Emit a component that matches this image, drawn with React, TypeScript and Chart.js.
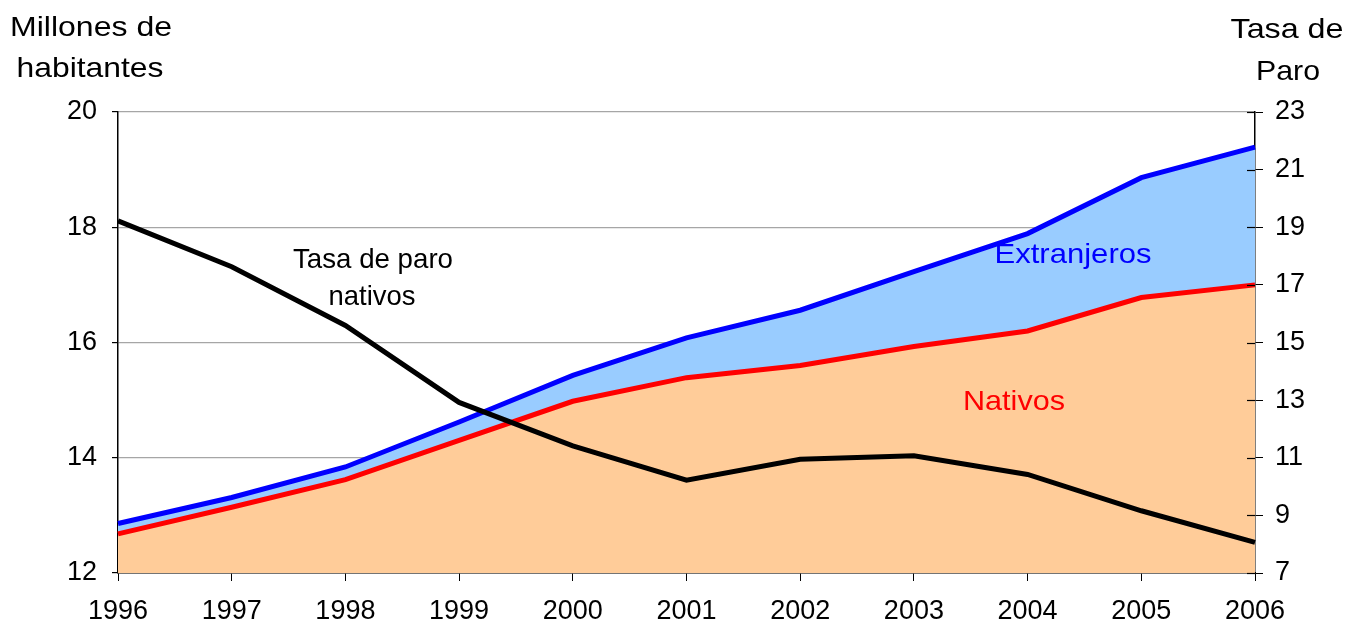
import React, { useEffect, useRef } from "react";
import { Chart, registerables } from "chart.js";

Chart.register(...registerables);

const years = ["1996", "1997", "1998", "1999", "2000", "2001", "2002", "2003", "2004", "2005", "2006"];
const nativos = [12.68, 13.14, 13.62, 14.3, 14.98, 15.39, 15.6, 15.93, 16.2, 16.78, 17.0];
const totalConExtranjeros = [12.86, 13.31, 13.84, 14.62, 15.43, 16.08, 16.56, 17.23, 17.89, 18.86, 19.39];
const tasaParoNativos = [19.22, 17.63, 15.59, 12.92, 11.41, 10.22, 10.95, 11.07, 10.42, 9.16, 8.06];

const FONT = "'Liberation Sans', Arial, sans-serif";

// [text, centerX, baselineY, targetWidth, color]
const labels: [string, number, number, number, string][] = [
  ["Millones de", 91, 36, 162, "#000000"],
  ["habitantes", 90, 77, 147, "#000000"],
  ["Tasa de", 1287, 38, 113, "#000000"],
  ["Paro", 1288, 80, 64, "#000000"],
  ["Tasa de paro", 373, 268, 160, "#000000"],
  ["nativos", 372, 305, 87, "#000000"],
  ["Extranjeros", 1073, 263, 157, "#0000FF"],
  ["Nativos", 1014, 410, 102, "#FF0000"],
];

const textPlugin = {
  id: "textPlugin",
  afterDraw(chart: any) {
    const ctx = chart.ctx;
    ctx.save();
    ctx.textAlign = "center";
    ctx.textBaseline = "alphabetic";
    ctx.font = `28px ${FONT}`;
    for (const [t, x, y, w, c] of labels) {
      const mw = ctx.measureText(t).width;
      const sx = w / mw;
      ctx.save();
      ctx.translate(x, y);
      ctx.scale(sx, 1);
      ctx.fillStyle = c;
      ctx.fillText(t, 0, 0);
      ctx.restore();
    }
    // inner part of right-axis tick marks
    const s = chart.scales.y1;
    ctx.strokeStyle = "#000000";
    ctx.lineWidth = 1.2;
    for (const tk of s.ticks) {
      const py = Math.round(s.getPixelForValue(tk.value)) + 0.5;
      ctx.beginPath();
      ctx.moveTo(s.left - 8, py);
      ctx.lineTo(s.left, py);
      ctx.stroke();
    }
    ctx.restore();
  },
};

export default function App() {
  const ref = useRef<HTMLCanvasElement>(null);
  useEffect(() => {
    if (!ref.current) return;
    const chart = new Chart(ref.current, {
      type: "line",
      data: {
        labels: years,
        datasets: [
          {
            label: "Nativos",
            data: nativos,
            yAxisID: "y",
            borderColor: "#FF0000",
            backgroundColor: "#FFCC99",
            borderWidth: 5,
            fill: "origin",
            pointRadius: 0,
            tension: 0,
            order: 2,
          },
          {
            label: "Extranjeros",
            data: totalConExtranjeros,
            yAxisID: "y",
            borderColor: "#0000FF",
            backgroundColor: "#99CCFF",
            borderWidth: 5,
            fill: 0,
            pointRadius: 0,
            tension: 0,
            order: 1,
          },
          {
            label: "Tasa de paro nativos",
            data: tasaParoNativos,
            yAxisID: "y1",
            borderColor: "#000000",
            backgroundColor: "#000000",
            borderWidth: 5,
            fill: false,
            pointRadius: 0,
            tension: 0,
            order: 0,
          },
        ],
      },
      options: {
        responsive: false,
        animation: false,
        layout: { padding: { top: 112, left: 0, right: 0, bottom: 0 } },
        plugins: {
          legend: { display: false },
          tooltip: { enabled: false },
          filler: { drawTime: "beforeDatasetsDraw" },
        },
        scales: {
          x: {
            type: "category",
            offset: false,
            grid: { display: true, drawOnChartArea: false, drawTicks: true, tickLength: 8, color: "#000000" },
            border: { display: true, color: "#000000", width: 1.5 },
            ticks: { color: "#000000", font: { family: FONT, size: 27 }, padding: 14, maxRotation: 0, autoSkip: false },
            afterFit: (s: any) => { s.height = 52; },
          },
          y: {
            position: "left",
            min: 12,
            max: 20,
            ticks: { stepSize: 2, color: "#000000", font: { family: FONT, size: 27 }, padding: 15 },
            grid: { color: "#A6A6A6", lineWidth: 1.2, tickColor: "#000000", tickLength: 6 },
            border: { display: true, color: "#000000", width: 1.5 },
            afterFit: (s: any) => { s.width = 118; },
          },
          y1: {
            position: "right",
            min: 7,
            max: 23,
            ticks: { stepSize: 2, color: "#000000", font: { family: FONT, size: 27 }, padding: 12 },
            grid: { drawOnChartArea: false, tickColor: "#000000", tickLength: 8 },
            border: { display: true, color: "#000000", width: 1.5 },
            afterFit: (s: any) => { s.width = 92; },
          },
        },
      },
      plugins: [textPlugin],
    } as any);
    return () => chart.destroy();
  }, []);
  return (
    <div style={{ position: "absolute", left: 0, top: 0, width: 1347, height: 625, background: "#ffffff" }}>
      <canvas ref={ref} width={1347} height={625} style={{ width: 1347, height: 625 }} />
    </div>
  );
}
